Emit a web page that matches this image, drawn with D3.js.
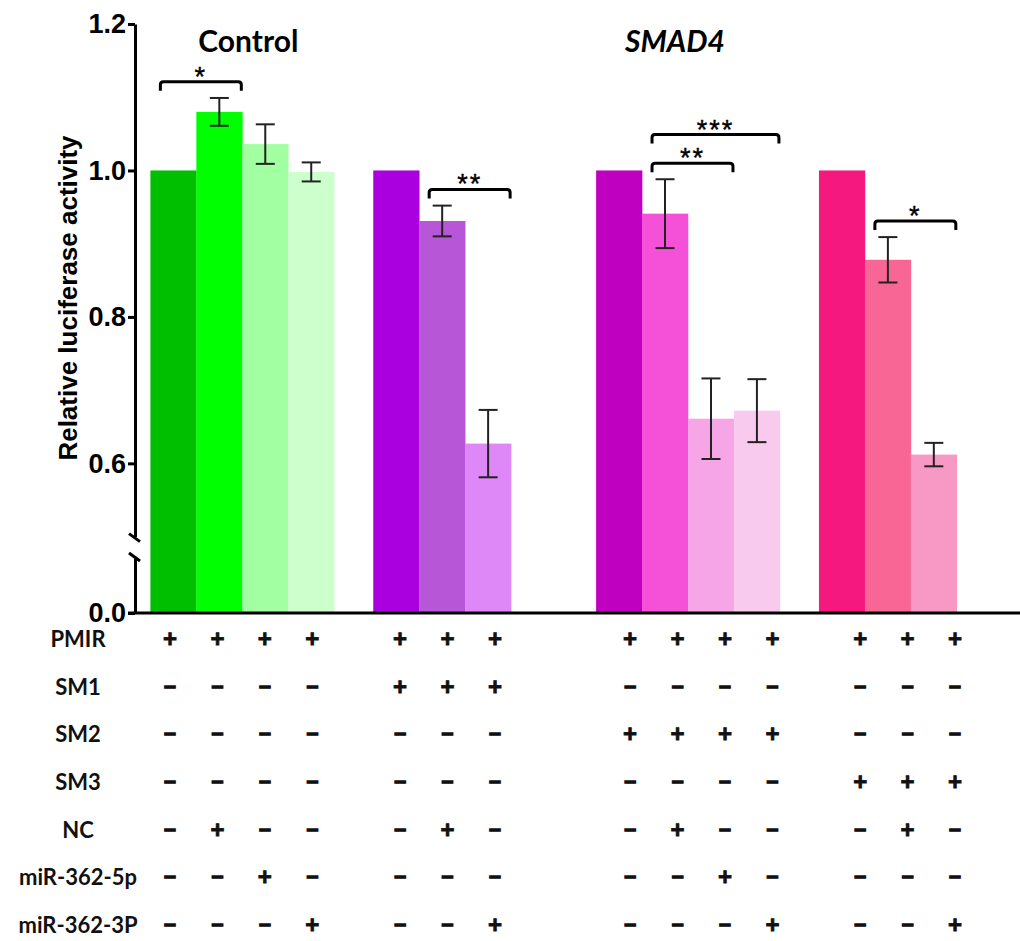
<!DOCTYPE html>
<html>
<head>
<meta charset="utf-8">
<script src="https://cdn.jsdelivr.net/npm/d3@7"></script>
<style>
  html, body { margin: 0; padding: 0; background: #fff; }
  svg { display: block; }
</style>
</head>
<body>
<svg id="chart" width="1020" height="941"></svg>
<script>
// ---- data ----------------------------------------------------------------
// reporter group of each bar (0: PMIR, 1: SM1, 2: SM2, 3: SM3)
const barGroup = [0, 0, 0, 0, 1, 1, 1, 2, 2, 2, 2, 3, 3, 3];
// panel each reporter group belongs to
const groupPanel = [0, 0, 1, 1];
const panelTitles = ["Control", "SMAD4"];
// relative luciferase activity (mean) and error (SD)
const values = [1.0, 1.080, 1.036, 0.998, 1.0, 0.931, 0.627, 1.0, 0.941, 0.661, 0.672, 1.0, 0.878, 0.612];
const errors = [0, 0.019, 0.027, 0.013, 0, 0.021, 0.046, 0, 0.047, 0.055, 0.043, 0, 0.031, 0.016];
const barColors = [
  "#00bf00", "#00ff00", "#a2ffa2", "#ccffcc",
  "#aa00e0", "#b856d8", "#dd88f6",
  "#c000c0", "#f550d8", "#f6a6e6", "#f8caee",
  "#f5187f", "#f86696", "#f898c5"
];
// significance brackets: bar indices compared, label, stacking tier
const sigFrom  = [0, 5, 8, 8, 12];
const sigTo    = [1, 6, 9, 10, 13];
const sigLabel = ["*", "**", "**", "***", "*"];
const sigTier  = [0, 0, 0, 1, 0];
// y ticks
const yTicksUpper = [0.6, 0.8, 1.0, 1.2];
const yTicksLower = [0.0];
// transfection design table (one character per bar)
const rowLabels = ["PMIR", "SM1", "SM2", "SM3", "NC", "miR-362-5p", "miR-362-3P"];
const design = [
  "++++" + "+++" + "++++" + "+++",
  "----" + "+++" + "----" + "---",
  "----" + "---" + "++++" + "---",
  "----" + "---" + "----" + "+++",
  "-+--" + "-+-" + "-+--" + "-+-",
  "--+-" + "---" + "--+-" + "---",
  "---+" + "--+" + "---+" + "--+"
];

// ---- layout --------------------------------------------------------------
const svg = d3.select("#chart");
const axisX = 135, baseY = 613;
const innerGap = 0.85, panelGap = 1.85;   // gaps in bar widths

// slot position of every bar (in units of one bar width)
const slots = [];
let pos = 0;
barGroup.forEach((g, i) => {
  if (i > 0 && g !== barGroup[i - 1]) {
    pos += groupPanel[g] === groupPanel[barGroup[i - 1]] ? innerGap : panelGap;
  }
  slots.push(pos);
  pos += 1;
});
const totalSlots = pos;
const x = d3.scaleLinear().domain([0, totalSlots]).range([150.4, 956.8]);
const bw = x(1) - x(0);
const cx = i => x(slots[i] + 0.5);

const yUp = d3.scaleLinear().domain([0.5, 1.2]).range([536.6, 24]);
const yLow = d3.scaleLinear().domain([0, 0.075]).range([baseY, 558]);

const bars = values.map((v, i) => ({ i, v, e: errors[i], c: barColors[i] }));

// ---- bars ----------------------------------------------------------------
svg.append("g").selectAll("rect").data(bars).join("rect")
  .attr("x", d => x(slots[d.i]))
  .attr("width", bw + 0.3)
  .attr("y", d => yUp(d.v))
  .attr("height", d => baseY - yUp(d.v))
  .attr("fill", d => d.c);

// ---- error bars ----------------------------------------------------------
const eb = svg.append("g").attr("stroke", "#222").attr("stroke-width", 2).attr("fill", "none");
bars.filter(d => d.e > 0).forEach(d => {
  const c = cx(d.i), t = yUp(d.v + d.e), b = yUp(d.v - d.e), hw = 9.5;
  eb.append("line").attr("x1", c).attr("x2", c).attr("y1", t).attr("y2", b);
  eb.append("line").attr("x1", c - hw).attr("x2", c + hw).attr("y1", t).attr("y2", t);
  eb.append("line").attr("x1", c - hw).attr("x2", c + hw).attr("y1", b).attr("y2", b);
});

// ---- axes ----------------------------------------------------------------
const axisFont = "'Liberation Sans', Arial, sans-serif";
function styleAxis(g) {
  g.select(".domain").attr("stroke", "#000").attr("stroke-width", 3);
  g.selectAll(".tick line").attr("stroke", "#000").attr("stroke-width", 3);
  g.selectAll(".tick text").attr("font-family", axisFont).attr("font-weight", "bold")
    .attr("font-size", 27).attr("fill", "#000");
}
svg.append("g").attr("transform", `translate(${axisX},0)`)
  .call(d3.axisLeft(yUp).tickValues(yTicksUpper).tickFormat(d3.format(".1f"))
    .tickSize(7).tickSizeOuter(0).tickPadding(2))
  .call(styleAxis);
svg.append("g").attr("transform", `translate(${axisX},0)`)
  .call(d3.axisLeft(yLow).tickValues(yTicksLower).tickFormat(d3.format(".1f"))
    .tickSize(7).tickSizeOuter(0).tickPadding(2))
  .call(styleAxis);

// axis break marks
[yUp.range()[0] + 1, yLow.range()[1] - 1].forEach(yb => {
  svg.append("line")
    .attr("x1", axisX - 6).attr("y1", yb - 4).attr("x2", axisX + 5).attr("y2", yb + 4)
    .attr("stroke", "#000").attr("stroke-width", 3);
});

// x baseline
svg.append("line").attr("x1", axisX - 7).attr("x2", 1020).attr("y1", baseY).attr("y2", baseY)
  .attr("stroke", "#000").attr("stroke-width", 3);

// y axis title
svg.append("text")
  .attr("transform", "translate(77,298) rotate(-90)")
  .attr("text-anchor", "middle")
  .attr("font-family", axisFont).attr("font-weight", "bold").attr("font-size", 26)
  .text("Relative luciferase activity");

// ---- panel titles --------------------------------------------------------
const titleFont = "Lato, 'Open Sans', sans-serif";
const firstOfGroup = g => barGroup.indexOf(g);
const lastOfGroup = g => barGroup.lastIndexOf(g);
const groupCenter = g => (x(slots[firstOfGroup(g)]) + x(slots[lastOfGroup(g)] + 1)) / 2;
svg.append("text").attr("x", groupCenter(0) + 6).attr("y", 52)
  .attr("text-anchor", "middle").attr("font-family", titleFont).attr("font-weight", "bold")
  .attr("font-size", 30).text(panelTitles[0]);
svg.append("text").attr("x", groupCenter(2) - 13).attr("y", 52)
  .attr("text-anchor", "middle").attr("font-family", titleFont).attr("font-weight", "bold")
  .attr("font-style", "italic").attr("font-size", 30).text(panelTitles[1]);

// ---- significance brackets -----------------------------------------------
const sg = svg.append("g");
sigFrom.forEach((f, k) => {
  const t = sigTo[k];
  let top = 0;
  for (let i = f; i <= t; i++) top = Math.max(top, values[i] + errors[i]);
  const level = top + 0.022 + sigTier[k] * 0.039;
  const yb = yUp(level);
  const x1 = cx(f) - 13, x2 = cx(t) + 22, r = 3, leg = 9;
  sg.append("path")
    .attr("d", `M${x1},${yb + leg} L${x1},${yb + r} Q${x1},${yb} ${x1 + r},${yb}
                L${x2 - r},${yb} Q${x2},${yb} ${x2},${yb + r} L${x2},${yb + leg}`)
    .attr("fill", "none").attr("stroke", "#000").attr("stroke-width", 3);
  sg.append("text").attr("x", (x1 + x2) / 2).attr("y", yb + 4)
    .attr("text-anchor", "middle").attr("font-family", axisFont).attr("font-size", 27)
    .attr("stroke", "#000").attr("stroke-width", 0.4)
    .attr("letter-spacing", 2)
    .text(sigLabel[k]);
});

// ---- design table --------------------------------------------------------
const tableX = d3.scaleLinear().domain([cx(0), cx(values.length - 1)]).range([170, 955]);
const rowY = d3.scaleLinear().domain([0, rowLabels.length - 1]).range([639, 925]);
const labelFont = "Lato, 'Open Sans', sans-serif";
const tg = svg.append("g");
rowLabels.forEach((lab, r) => {
  tg.append("text").attr("x", 78).attr("y", rowY(r)).attr("dy", "0.36em")
    .attr("text-anchor", "middle").attr("font-family", labelFont).attr("font-weight", "bold")
    .attr("font-size", 22).attr("fill", "#111").text(lab);
  design[r].split("").forEach((s, i) => {
    const plus = s === "+";
    tg.append("text").attr("x", tableX(cx(i))).attr("y", rowY(r)).attr("dy", "0.33em")
      .attr("text-anchor", "middle").attr("font-family", axisFont).attr("font-weight", "bold")
      .attr("font-size", plus ? 24 : 21).attr("fill", "#111").attr("stroke", "#111")
      .attr("stroke-width", plus ? 0.8 : 1.3)
      .text(plus ? "+" : "\u2212");
  });
});
</script>
</body>
</html>
